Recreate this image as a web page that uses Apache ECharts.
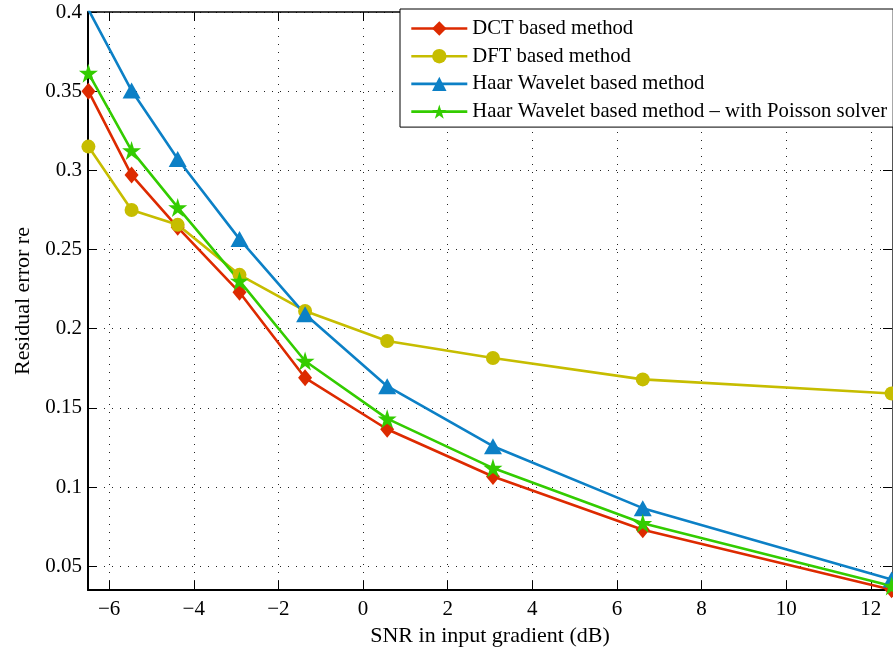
<!DOCTYPE html>
<html>
<head>
<meta charset="utf-8">
<script src="https://cdn.jsdelivr.net/npm/echarts@6/dist/echarts.min.js"></script>
<style>
  html, body { margin: 0; padding: 0; background: #fff; }
  #chart { width: 893px; height: 647px; }
</style>
</head>
<body>
<div id="chart"></div>
<script>
// ---- data ----
var snr = [-6.49, -5.47, -4.38, -2.92, -1.37, 0.57, 3.07, 6.61, 12.49];
var dctErr = [0.350, 0.297, 0.264, 0.223, 0.169, 0.1365, 0.1067, 0.073, 0.0352];
var dftErr = [0.315, 0.275, 0.2656, 0.234, 0.2112, 0.1922, 0.1815, 0.168, 0.1591];
var haarErr = [0.4015, 0.3504, 0.3072, 0.2566, 0.2091, 0.1637, 0.1258, 0.0867, 0.0416];
var haarPoissonErr = [0.3614, 0.3125, 0.2766, 0.2302, 0.1796, 0.1432, 0.112, 0.0772, 0.0375];
var seriesNames = ['DCT based method', 'DFT based method', 'Haar Wavelet based method',
                   'Haar Wavelet based method \u2013 with Poisson solver'];
var xLabelName = 'SNR in input gradient (dB)';
var yLabelName = 'Residual error re';

var FONT = '"Liberation Serif", "Times New Roman", serif';
var STAR = 'path://M50,0 L61.2,34.5 L97.6,34.5 L68.2,55.9 L79.4,90.5 L50,69.1 L20.6,90.5 L31.8,55.9 L2.4,34.5 L38.8,34.5 Z';

function pairs(xs, ys) { return xs.map(function (x, i) { return [x, ys[i]]; }); }

var chart = echarts.init(document.getElementById('chart'), null, { renderer: 'canvas' });

var gridLine = { show: true, lineStyle: { color: '#222', width: 1, type: [1, 7] } };

function mkSeries(name, ys, color, symbol, size) {
  return {
    name: name, type: 'line', data: pairs(snr, ys),
    symbol: symbol, symbolSize: size, showSymbol: true,
    lineStyle: { color: color, width: 2.6 },
    itemStyle: { color: color, borderWidth: 0 },
    emphasis: { disabled: true },
    animation: false
  };
}

var option = {
  animation: false,
  backgroundColor: '#fff',
  textStyle: { fontFamily: FONT },
  grid: { left: 88, right: 1, top: 12, bottom: 57, containLabel: false, outerBoundsMode: 'none' },
  legend: {
    orient: 'vertical', left: 400, top: 9,
    padding: [9, 6, 5, 10],
    itemWidth: 56, itemHeight: 18, itemGap: 6.7,
    backgroundColor: '#fff', borderColor: '#000', borderWidth: 1,
    lineStyle: { width: 2.6 },
    textStyle: { fontFamily: FONT, fontSize: 20.7, color: '#000', lineHeight: 21 },
    data: seriesNames
  },
  xAxis: [{
    type: 'value', min: -6.5, max: 12.5, splitNumber: 10,
    name: xLabelName, nameLocation: 'middle', nameGap: 30,
    nameTextStyle: { fontFamily: FONT, fontSize: 22, color: '#000' },
    axisLine: { show: true, onZero: false, lineStyle: { color: '#000', width: 2 } },
    axisTick: { show: true, inside: true, length: 9, lineStyle: { color: '#000', width: 1 } },
    axisLabel: {
      fontFamily: FONT, fontSize: 21, color: '#000', margin: 9,
      showMinLabel: false, showMaxLabel: false,
      formatter: function (v) { return v < 0 ? '\u2212' + Math.abs(v) : String(v); }
    },
    splitLine: gridLine
  }, {
    type: 'value', position: 'top', min: -6.5, max: 12.5, splitNumber: 10,
    axisLine: { show: true, onZero: false, lineStyle: { color: '#000', width: 1.5 } },
    axisTick: { show: true, inside: true, length: 9, lineStyle: { color: '#000', width: 1 } },
    axisLabel: { show: false }, splitLine: { show: false }
  }],
  yAxis: [{
    type: 'value', min: 0.035, max: 0.4, splitNumber: 7,
    name: yLabelName, nameLocation: 'middle', nameGap: 54, nameRotate: 90,
    nameTextStyle: { fontFamily: FONT, fontSize: 22, color: '#000' },
    axisLine: { show: true, onZero: false, lineStyle: { color: '#000', width: 2 } },
    axisTick: { show: true, inside: true, length: 9, lineStyle: { color: '#000', width: 1 } },
    axisLabel: {
      fontFamily: FONT, fontSize: 21, color: '#000', margin: 6,
      showMinLabel: false,
      formatter: function (v) { return String(Number(v.toFixed(3))); }
    },
    splitLine: gridLine
  }, {
    type: 'value', position: 'right', min: 0.035, max: 0.4, splitNumber: 7,
    axisLine: { show: true, onZero: false, lineStyle: { color: '#555', width: 1 } },
    axisTick: { show: true, inside: true, length: 9, lineStyle: { color: '#000', width: 1 } },
    axisLabel: { show: false }, splitLine: { show: false }
  }],
  series: [
    mkSeries(seriesNames[0], dctErr, '#dd2a00', 'diamond', [14, 17]),
    mkSeries(seriesNames[1], dftErr, '#c6bd00', 'circle', 14),
    mkSeries(seriesNames[2], haarErr, '#0c80c6', 'triangle', [18, 16]),
    mkSeries(seriesNames[3], haarPoissonErr, '#33cc00', STAR, 19)
  ]
};
chart.setOption(option);
</script>
</body>
</html>
